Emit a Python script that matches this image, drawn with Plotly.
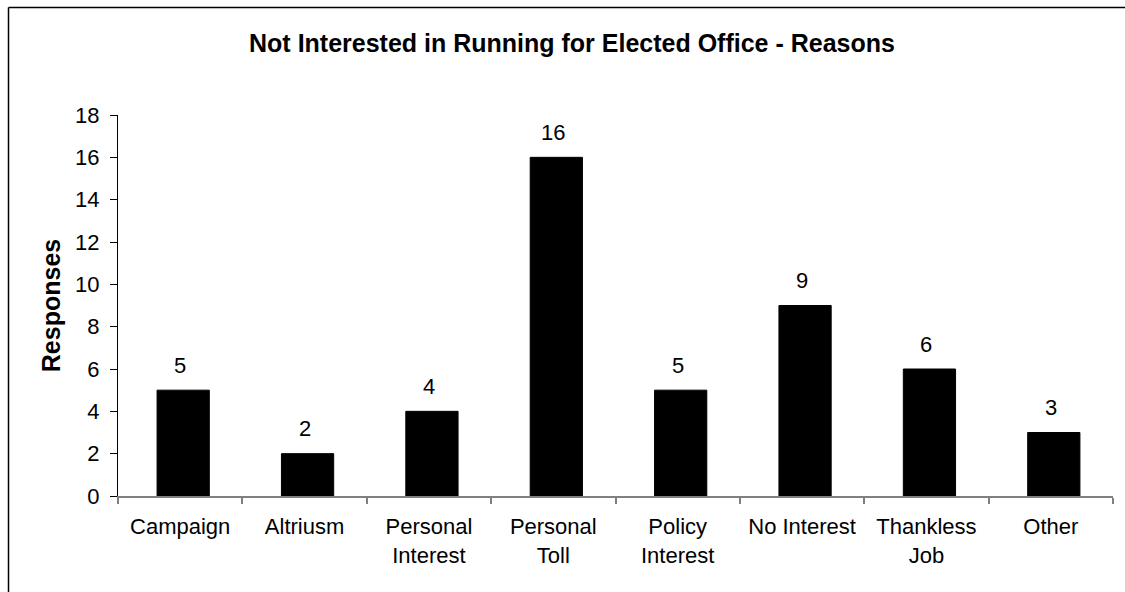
import plotly.graph_objects as go

categories = ["Campaign", "Altriusm", "Personal<br>Interest", "Personal<br>Toll",
              "Policy<br>Interest", "No Interest", "Thankless<br>Job", "Other"]
responses = [5, 2, 4, 16, 5, 9, 6, 3]
y_ticks = [0, 2, 4, 6, 8, 10, 12, 14, 16, 18]

W, H = 1125, 592
L, R, T, B = 118, 12, 115, 96
FONT = "Arial, Liberation Sans, sans-serif"
pw, ph = W - L - R, H - T - B
cat_px = pw / len(categories)

fig = go.Figure(go.Bar(
    x=categories, y=responses,
    width=0.42, offset=-0.21 + 3 / cat_px,
    marker=dict(color="black", line=dict(color="black", width=1)),
    hoverinfo="x+y",
))

for c, v in zip(categories, responses):
    fig.add_annotation(x=c, y=v, text=str(v), showarrow=False,
                       yanchor="middle", yshift=25,
                       font=dict(size=22, family=FONT, color="black"))

xl = (8.5 - L) / pw
xr = (W + 20 - L) / pw
yt = (H - B - 7.5) / ph
yb = -(B + 20) / ph

fig.update_layout(
    width=W, height=H,
    margin=dict(l=L, r=R, t=T, b=B),
    paper_bgcolor="white", plot_bgcolor="white",
    font=dict(family=FONT, size=22, color="black"),
    showlegend=False,
    title=dict(text="<b>Not Interested in Running for Elected Office - Reasons</b>",
               x=(572 - L) / pw, xref="paper", xanchor="center",
               y=(H - 43) / H, yanchor="middle",
               font=dict(size=25, family=FONT, color="black")),
    xaxis=dict(showline=True, linecolor="#808080", linewidth=1.5,
               ticks="outside", tickson="boundaries", ticklen=6,
               tickcolor="#808080", tickwidth=1.5, ticklabelstandoff=10,
               tickfont=dict(size=22, family=FONT), showgrid=False),
    yaxis=dict(range=[0, 18], tickvals=y_ticks, showline=True,
               linecolor="black", linewidth=1, ticks="outside", ticklen=7,
               tickcolor="black", tickwidth=1, showgrid=False, zeroline=False,
               ticklabelstandoff=6,
               tickfont=dict(size=22, family=FONT),
               title=dict(text="<b>Responses</b>", font=dict(size=25, family=FONT),
                          standoff=7)),
    shapes=[
        dict(type="line", xref="paper", yref="paper", x0=xl, x1=xr, y0=yt, y1=yt,
             line=dict(color="black", width=1.5), layer="above"),
        dict(type="line", xref="paper", yref="paper", x0=xl, x1=xl, y0=yb, y1=yt,
             line=dict(color="black", width=1.5), layer="above"),
    ],
)

fig.write_html("out.html", config={"displayModeBar": False},
               post_script="document.body.style.margin='0';"
                           "document.body.style.overflow='hidden';")
